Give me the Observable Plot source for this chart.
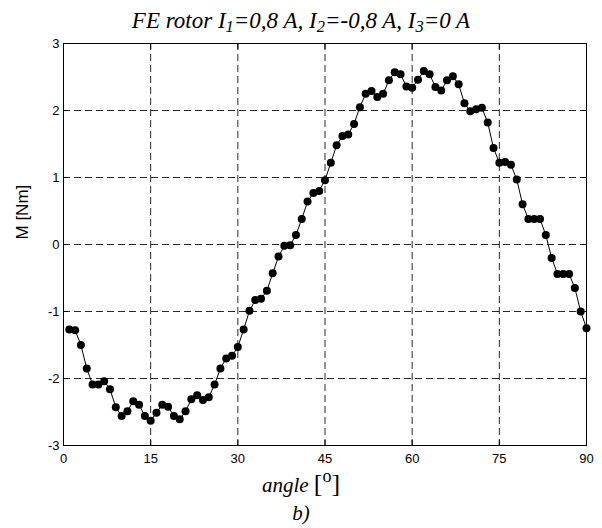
<!DOCTYPE html>
<html>
<head>
<meta charset="utf-8">
<script src="https://cdn.jsdelivr.net/npm/d3@7"></script>
<script src="https://cdn.jsdelivr.net/npm/@observablehq/plot@0.6"></script>
<style>
  html, body { margin: 0; padding: 0; background: #fff; }
  #wrap { width: 602px; height: 528px; overflow: hidden; }
  .serif { font-family: "Liberation Serif", "Times New Roman", serif; font-style: italic; text-align: center; width: 602px; color: #000; }
  #title { font-size: 23px; height: 33px; padding-top: 3px; line-height: 36px; white-space: nowrap; }
  #title sub { font-size: 72%; line-height: 0; vertical-align: -0.25em; }
  #xlabel { font-size: 21px; height: 24px; line-height: 24px; }
  #xlabel .br { font-style: normal; font-size: 26px; line-height: 0; }
  #xlabel sup { font-style: normal; font-size: 18px; line-height: 0; vertical-align: 0.55em; }
  #sub { font-size: 21px; height: 31px; line-height: 33px; }
  svg { display: block; }
</style>
</head>
<body>
<div id="wrap">
  <div id="title" class="serif">FE rotor I<sub>1</sub>=0,8 A, I<sub>2</sub>=-0,8 A, I<sub>3</sub>=0 A</div>
  <div id="chart"></div>
  <div id="xlabel" class="serif">angle <span class="br">[</span><sup>o</sup><span class="br">]</span></div>
  <div id="sub" class="serif">b)</div>
</div>
<script>
const angles = [1,2,3,4,5,6,7,8,9,10,11,12,13,14,15,16,17,18,19,20,21,22,23,24,25,26,27,28,29,30,
  31,32,33,34,35,36,37,38,39,40,41,42,43,44,45,46,47,48,49,50,51,52,53,54,55,56,57,58,59,60,
  61,62,63,64,65,66,67,68,69,70,71,72,73,74,75,76,77,78,79,80,81,82,83,84,85,86,87,88,89,90];
const torque = [-1.27,-1.28,-1.50,-1.85,-2.09,-2.09,-2.04,-2.16,-2.43,-2.56,
  -2.49,-2.34,-2.39,-2.56,-2.63,-2.51,-2.39,-2.42,-2.56,-2.61,
  -2.49,-2.31,-2.25,-2.32,-2.28,-2.09,-1.85,-1.70,-1.66,-1.53,
  -1.27,-0.99,-0.83,-0.81,-0.69,-0.43,-0.18,-0.02,-0.01,0.14,
  0.38,0.64,0.77,0.80,0.96,1.22,1.48,1.62,1.64,1.80,
  2.05,2.25,2.29,2.20,2.25,2.45,2.57,2.54,2.36,2.34,
  2.46,2.59,2.54,2.35,2.30,2.45,2.51,2.39,2.11,1.99,
  2.02,2.04,1.82,1.44,1.22,1.23,1.19,0.97,0.60,0.38,
  0.38,0.38,0.14,-0.20,-0.44,-0.44,-0.44,-0.65,-1.00,-1.25];
const xTicks = [0, 15, 30, 45, 60, 75, 90];
const yTicks = [-3, -2, -1, 0, 1, 2, 3];
const yLabel = "M [Nm]";

const data = angles.map((a, i) => ({angle: a, M: torque[i]}));

const chart = Plot.plot({
  width: 602,
  height: 437,
  marginTop: 7,
  marginBottom: 28,
  marginLeft: 63,
  marginRight: 16,
  style: {fontFamily: "'Liberation Sans', Arial, Helvetica, sans-serif", fontSize: "13px", color: "#000", background: "#fff"},
  x: {domain: [0, 90]},
  y: {domain: [-3, 3]},
  marks: [
    Plot.gridX(xTicks, {stroke: "#000", strokeOpacity: 0.85, strokeDasharray: "7,4"}),
    Plot.gridY(yTicks, {stroke: "#000", strokeOpacity: 0.85, strokeDasharray: "7,4"}),
    Plot.axisX(xTicks, {anchor: "bottom", tickSize: -5, tickPadding: 13, label: null, tickFormat: d => String(d), fontSize: 13}),
    Plot.axisX(xTicks, {anchor: "top", tickSize: -5, label: null, tickFormat: () => ""}),
    Plot.axisY(yTicks, {anchor: "left", tickSize: -5, tickPadding: 9, label: null, tickFormat: d => String(d), fontSize: 13}),
    Plot.axisY(yTicks, {anchor: "right", tickSize: -5, label: null, tickFormat: () => ""}),
    Plot.frame({stroke: "#000", strokeWidth: 1}),
    Plot.line(data, {x: "angle", y: "M", stroke: "#000", strokeWidth: 1}),
    Plot.dot(data, {x: "angle", y: "M", r: 4, fill: "#000", stroke: null}),
    Plot.text([yLabel], {text: d => d, frameAnchor: "left", rotate: -90, dx: -41, dy: -5, fontSize: 17, fill: "#000"})
  ]
});
document.getElementById("chart").appendChild(chart);
</script>
</body>
</html>
